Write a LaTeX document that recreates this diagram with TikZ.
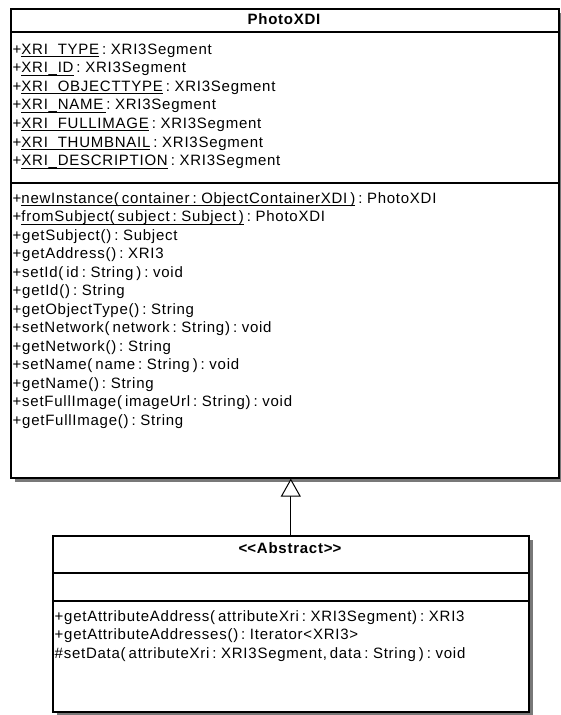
\documentclass[tikz,border=0pt]{standalone}
\usepackage{fontspec}
\setmainfont{Liberation Sans}[WordSpace=0.6, LetterSpace=5]
\usetikzlibrary{arrows.meta,shadows}
\definecolor{shadowgray}{RGB}{120,120,120}

% underline for static members, level with the underscore
\newcommand\statmember[1]{\setbox0\hbox{#1}\rlap{\rule[-2.9pt]{\wd0}{0.9pt}}\box0\relax}

\tikzset{
  classbox/.style={draw=black, line width=1.6pt, fill=white, anchor=north west,
    drop shadow={shadow xshift=4pt, shadow yshift=-4pt, fill=shadowgray, opacity=1}},
  divider/.style={draw=black, line width=1.6pt},
  member/.style={anchor=west, inner sep=0pt, text height=11pt, text depth=3pt,
    font=\fontsize{15}{17}\selectfont},
  classname/.style={member, anchor=center, font=\fontsize{15}{17}\selectfont\bfseries},
  generalization/.style={draw=black, line width=1pt,
    -{Triangle[open, width=20pt, length=18pt, fill=white]}}
}

\begin{document}
\begin{tikzpicture}[x=1pt, y=-1pt]

% Page
\useasboundingbox (0,0) rectangle (561,715);

% Class PhotoXDI
\node[classbox, minimum width=548pt, minimum height=469pt] (photo) at (10,8) {};
\node[classname] (phototitle) at (284,20) {PhotoXDI};
\draw[divider] (photo.west |- 0,32) -- (photo.east |- 0,32);
\draw[divider] (photo.west |- 0,183) -- (photo.east |- 0,183);

% Attributes
\foreach \i/\txt in {
0/{+\statmember{XRI\_TYPE} : XRI3Segment},
1/{+\statmember{XRI\_ID} : XRI3Segment},
2/{+\statmember{XRI\_OBJECTTYPE} : XRI3Segment},
3/{+\statmember{XRI\_NAME\ }: XRI3Segment},
4/{+\statmember{XRI\_FULLIMAGE} : XRI3Segment},
5/{+\statmember{XRI\_THUMBNAIL} : XRI3Segment},
6/{+\statmember{XRI\_DESCRIPTION} : XRI3Segment}
} {
    \node[member] (attr\i) at (12.5,{50+18.6*\i}) {\txt};
}

% Operations
\foreach \i/\txt in {
0/{+\statmember{newInstance( container : ObjectContainerXDI )} : PhotoXDI},
1/{+\statmember{fromSubject( subject : Subject )} : PhotoXDI},
2/{+getSubject() : Subject},
3/{+getAddress() : XRI3},
4/{+setId( id : String ) : void},
5/{+getId() : String},
6/{+getObjectType() : String},
7/{+setNetwork( network : String) : void},
8/{+getNetwork() : String},
9/{+setName( name : String ) : void},
10/{+getName() : String},
11/{+setFullImage( imageUrl : String) : void},
12/{+getFullImage() : String}
} {
    \node[member] (op\i) at (12.5,{199+18.5*\i}) {\txt};
}

% Class <<Abstract>>
\node[classbox, minimum width=476pt, minimum height=176pt] (abstractcls) at (52,535) {};
\node[classname] (abstracttitle) at (290,549) {\textless\kern0pt\textless Abstract\textgreater\kern0pt\textgreater};
\draw[divider] (abstractcls.west |- 0,573) -- (abstractcls.east |- 0,573);
\draw[divider] (abstractcls.west |- 0,601) -- (abstractcls.east |- 0,601);

\foreach \i/\txt in {
0/{+getAttributeAddress( attributeXri : XRI3Segment) : XRI3},
1/{+getAttributeAddresses() : Iterator\textless XRI3\textgreater},
2/{\#setData( attributeXri : XRI3Segment, data : String ) : void}
} {
    \node[member] (absop\i) at (54.5,{617+18.5*\i}) {\txt};
}

% Generalization
\draw[generalization] (abstractcls.north) -- (abstractcls.north |- photo.south);

\end{tikzpicture}
\end{document}
